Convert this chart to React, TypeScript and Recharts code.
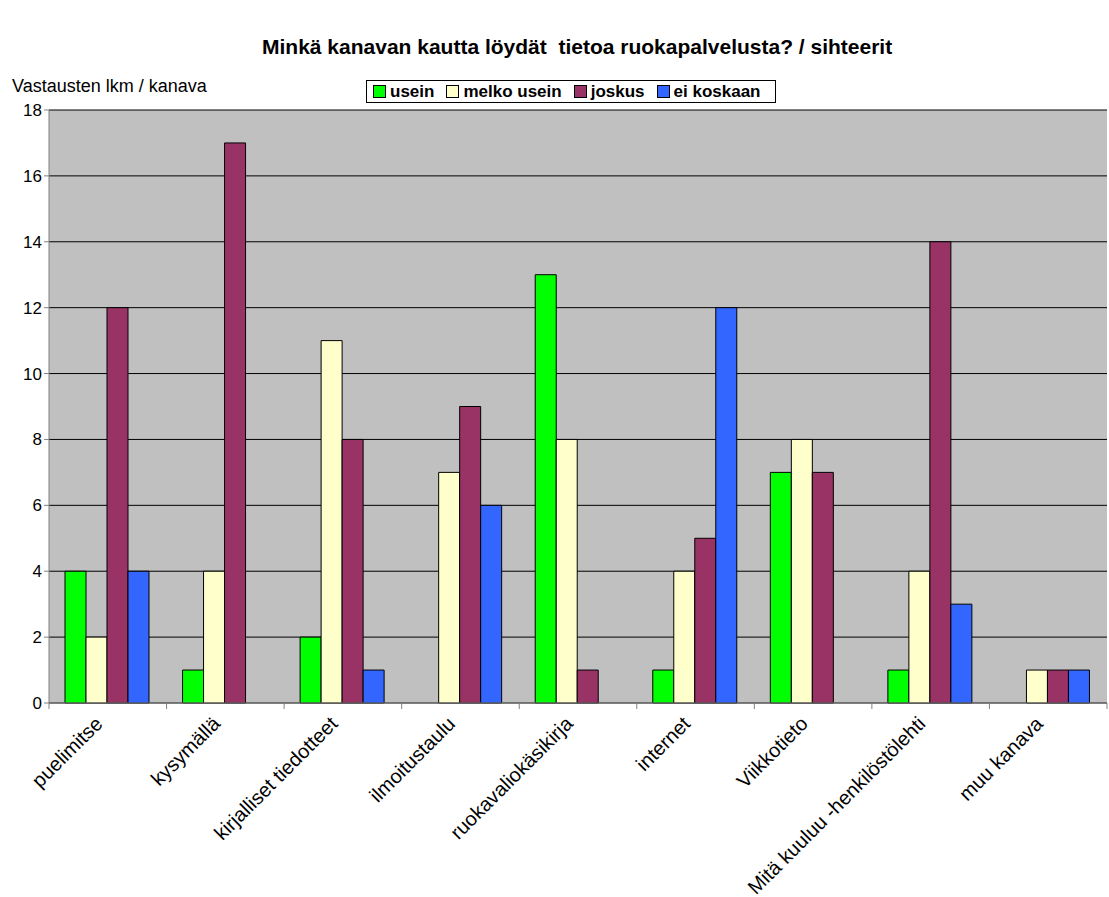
import React from "react";
import { BarChart, Bar, CartesianGrid, XAxis, YAxis } from "recharts";

const channels = [
  "puelimitse",
  "kysymällä",
  "kirjalliset tiedotteet",
  "ilmoitustaulu",
  "ruokavaliokäsikirja",
  "internet",
  "Viikkotieto",
  "Mitä kuuluu -henkilöstölehti",
  "muu kanava",
];

const usein = [4, 1, 2, 0, 13, 1, 7, 1, 0];
const melkoUsein = [2, 4, 11, 7, 8, 4, 8, 4, 1];
const joskus = [12, 17, 8, 9, 1, 5, 7, 14, 1];
const eiKoskaan = [4, 0, 1, 6, 0, 12, 0, 3, 1];

const yTicks = [0, 2, 4, 6, 8, 10, 12, 14, 16, 18];

const seriesInfo = [
  { key: "usein", name: "usein", color: "#00FF00" },
  { key: "melkoUsein", name: "melko usein", color: "#FFFFCC" },
  { key: "joskus", name: "joskus", color: "#993366" },
  { key: "eiKoskaan", name: "ei koskaan", color: "#3366FF" },
];

const data = channels.map((c, i) => ({
  channel: c,
  usein: usein[i],
  melkoUsein: melkoUsein[i],
  joskus: joskus[i],
  eiKoskaan: eiKoskaan[i],
}));

const FONT = "'Liberation Sans', Arial, sans-serif";
const W = 1109;
const H = 897;
const PLOT_LEFT = 49;
const PLOT_RIGHT = 1107;
const BAND = (PLOT_RIGHT - PLOT_LEFT) / channels.length;

// Excel-style ticks sit on the category borders, labels go under the centre
const CategoryTick = (props: any) => {
  const { x, y, payload, index } = props;
  const left = x - BAND / 2;
  return (
    <g>
      <line x1={left} y1={y - 8} x2={left} y2={y - 2} stroke="#808080" />
      {index === channels.length - 1 && (
        <line x1={left + BAND} y1={y - 8} x2={left + BAND} y2={y - 2} stroke="#808080" />
      )}
      <text
        x={x - 4}
        y={y + 14}
        textAnchor="end"
        transform={`rotate(-45, ${x - 4}, ${y + 14})`}
        fontFamily={FONT}
        fontSize={20}
        fill="#000"
      >
        {payload.value}
      </text>
    </g>
  );
};

export default function App() {
  return (
    <div style={{ position: "absolute", left: 0, top: 0, width: W, height: H, background: "#fff" }}>
      <div
        style={{
          position: "absolute",
          top: 35,
          left: 262,
          whiteSpace: "pre",
          fontFamily: FONT,
          fontWeight: "bold",
          fontSize: 21,
        }}
      >
        {"Minkä kanavan kautta löydät  tietoa ruokapalvelusta? / sihteerit"}
      </div>
      <div
        style={{
          position: "absolute",
          top: 76,
          left: 12,
          fontFamily: FONT,
          fontSize: 18,
        }}
      >
        Vastausten lkm / kanava
      </div>
      <div
        style={{
          position: "absolute",
          top: 80,
          left: 366,
          width: 410,
          height: 23,
          border: "1px solid #000",
          background: "#fff",
          boxSizing: "border-box",
          display: "flex",
          alignItems: "center",
          paddingLeft: 6,
          fontFamily: FONT,
          fontWeight: "bold",
          fontSize: 17,
        }}
      >
        {seriesInfo.map((s) => (
          <div key={s.key} style={{ display: "flex", alignItems: "center", marginRight: 12 }}>
            <span
              style={{
                display: "inline-block",
                width: 11,
                height: 11,
                background: s.color,
                border: "1px solid #000",
                marginRight: 4,
              }}
            />
            <span>{s.name}</span>
          </div>
        ))}
      </div>
      <BarChart
        width={W}
        height={H}
        data={data}
        margin={{ top: 110, right: W - PLOT_RIGHT, bottom: 0, left: 0 }}
        barCategoryGap={16}
        barGap={0}
      >
        <CartesianGrid vertical={false} stroke="#000" fill="#C0C0C0" fillOpacity={1} />
        <XAxis
          dataKey="channel"
          interval={0}
          height={H - 703}
          tickLine={false}
          axisLine={{ stroke: "#808080" }}
          tick={<CategoryTick />}
        />
        <YAxis
          width={PLOT_LEFT}
          domain={[0, 18]}
          ticks={yTicks}
          interval={0}
          tickSize={5}
          axisLine={{ stroke: "#808080" }}
          tickLine={{ stroke: "#808080" }}
          tick={{ fill: "#000", fontFamily: FONT, fontSize: 17 }}
        />
        {seriesInfo.map((s) => (
          <Bar
            key={s.key}
            dataKey={s.key}
            name={s.name}
            fill={s.color}
            stroke="#000"
            strokeWidth={1}
            isAnimationActive={false}
          />
        ))}
      </BarChart>
    </div>
  );
}
